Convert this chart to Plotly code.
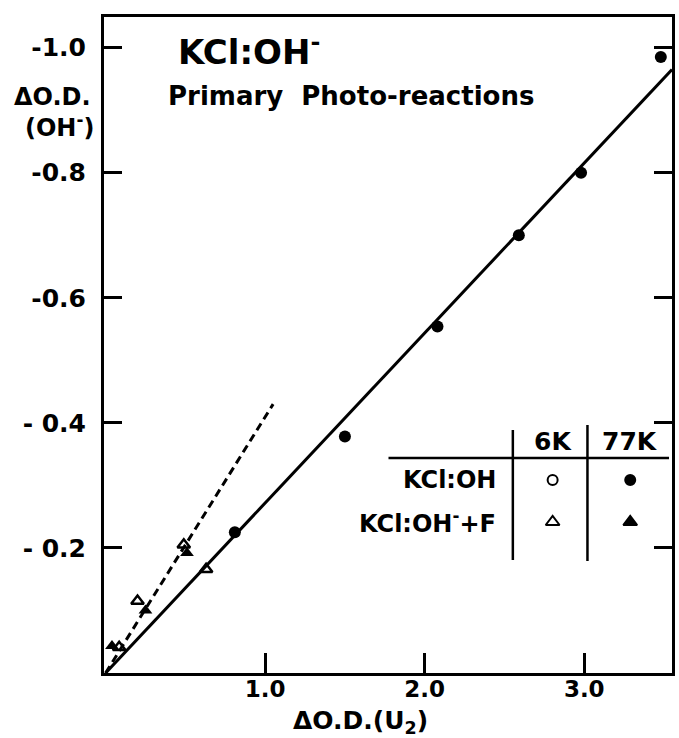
import plotly.graph_objects as go

# --- measured values -------------------------------------------------------
# KCl:OH-, 77 K (filled circles) along the common straight line
oh77_x = [0.81, 1.50, 2.08, 2.59, 2.98, 3.48]
oh77_y = [-0.225, -0.378, -0.554, -0.700, -0.800, -0.985]

# KCl:OH- + F, 6 K (open triangles)
f6_x = [0.085, 0.20, 0.49, 0.63]
f6_y = [-0.041, -0.115, -0.205, -0.166]

# KCl:OH- + F, 77 K (filled triangles)
f77_x = [0.04, 0.25, 0.51]
f77_y = [-0.043, -0.100, -0.192]

# straight-line fits
solid_x = [0.0, 3.55]
solid_y = [0.0, -0.965]
dash_x = [0.0, 1.05]
dash_y = [0.0, -0.43]

x_ticks = [1.0, 2.0, 3.0]
x_ticktext = ["1.0", "2.0", "3.0"]
y_ticks = [-1.0, -0.8, -0.6, -0.4, -0.2]
y_ticktext = ["-1.0", "-0.8", "-0.6", "- 0.4", "- 0.2"]

# key table: row labels, column labels, symbols per (row, column)
key_rows = ["KCl:OH", "KCl:OH<sup>-</sup>+F"]
key_cols = ["6K", "77K"]
key_symbols = [["circle-open", "circle"], ["triangle-up-open", "triangle-up"]]

FONT = "DejaVu Sans"
INK = "black"

# plot-area frame in page pixels, used to place free text in paper units
L, R, T, B = 104, 675, 17, 673


def paper_x(px):
    return (px - L) / (R - L)


def paper_y(py):
    return (B - py) / (B - T)


def free_text(px, py, text, size, xanchor="center"):
    fig.add_annotation(x=paper_x(px), y=paper_y(py), xref="paper", yref="paper",
                       text=text, xanchor=xanchor, yanchor="middle", showarrow=False,
                       font=dict(family=FONT, size=size, color=INK))


fig = go.Figure()

fig.add_trace(go.Scatter(x=solid_x, y=solid_y, mode="lines",
                         line=dict(color=INK, width=3), hoverinfo="skip"))
fig.add_trace(go.Scatter(x=dash_x, y=dash_y, mode="lines",
                         line=dict(color=INK, width=3, dash="8px,5px"), hoverinfo="skip"))
fig.add_trace(go.Scatter(x=oh77_x, y=oh77_y, mode="markers",
                         marker=dict(symbol="circle", size=12, color=INK)))
fig.add_trace(go.Scatter(x=f6_x, y=f6_y, mode="markers",
                         marker=dict(symbol="triangle-up-open", size=11, color=INK,
                                     line=dict(width=2.5, color=INK))))
fig.add_trace(go.Scatter(x=f77_x, y=f77_y, mode="markers",
                         marker=dict(symbol="triangle-up", size=12, color=INK)))

# --- key table drawn on a pixel-unit overlay axis pair ----------------------
col_x = [555, 633]
row_y = [480, 522]
for r, row in enumerate(key_symbols):
    for c, sym in enumerate(row):
        fig.add_trace(go.Scatter(
            x=[col_x[c]], y=[row_y[r]], xaxis="x2", yaxis="y2", mode="markers",
            marker=dict(symbol=sym, size=10 if "circle" in sym else 12, color=INK,
                        line=dict(width=2, color=INK)),
            hoverinfo="skip"))

for c, lab in enumerate(key_cols):
    fig.add_annotation(x=col_x[c], y=441, xref="x2", yref="y2", text="<b>" + lab + "</b>",
                       showarrow=False, font=dict(family=FONT, size=25, color=INK))
for r, lab in enumerate(key_rows):
    fig.add_annotation(x=500, y=row_y[r], xref="x2", yref="y2", text="<b>" + lab + "</b>",
                       xanchor="right", showarrow=False,
                       font=dict(family=FONT, size=24, color=INK))

key_lines = [
    (390, 458, 672, 458),
    (515, 430, 515, 560),
    (590, 425, 590, 561),
]
for x0, y0, x1, y1 in key_lines:
    fig.add_shape(type="line", x0=x0, y0=y0, x1=x1, y1=y1, xref="x2", yref="y2",
                  line=dict(color=INK, width=2.5))

# --- titles ----------------------------------------------------------------
free_text(176, 50, "<b>KCl:OH<sup>-</sup></b>", 34, xanchor="left")
free_text(166, 96, "<b>Primary  Photo-reactions</b>", 26, xanchor="left")
free_text(52, 97, "<b>ΔO.D.</b>", 24)
free_text(59, 126, "<b>(OH<sup>-</sup>)</b>", 24)
free_text(362, 722, "<b>ΔO.D.(U<sub>2</sub>)</b>", 25)

fig.update_layout(
    width=679, height=738,
    margin=dict(l=L, r=679 - R, t=T, b=738 - B),
    paper_bgcolor="white", plot_bgcolor="white",
    showlegend=False,
    xaxis=dict(range=[-0.01, 3.55], tickvals=x_ticks, ticktext=x_ticktext,
               ticks="inside", ticklen=20, tickwidth=2.5, tickcolor=INK,
               showline=True, linecolor=INK, linewidth=3, mirror=True,
               showgrid=False, zeroline=False, ticklabelstandoff=-7,
               tickfont=dict(family=FONT, size=23, color=INK, weight="bold")),
    yaxis=dict(range=[0.0, -1.049], tickvals=y_ticks, ticktext=y_ticktext,
               ticks="inside", ticklen=18, tickwidth=2.5, tickcolor=INK,
               showline=True, linecolor=INK, linewidth=3, mirror="ticks",
               showgrid=False, zeroline=False, ticklabelstandoff=10,
               tickfont=dict(family=FONT, size=25, color=INK, weight="bold")),
    xaxis2=dict(range=[L, R], overlaying="x", visible=False),
    yaxis2=dict(range=[B, T], overlaying="y", visible=False),
)

fig.write_html("out.html")
